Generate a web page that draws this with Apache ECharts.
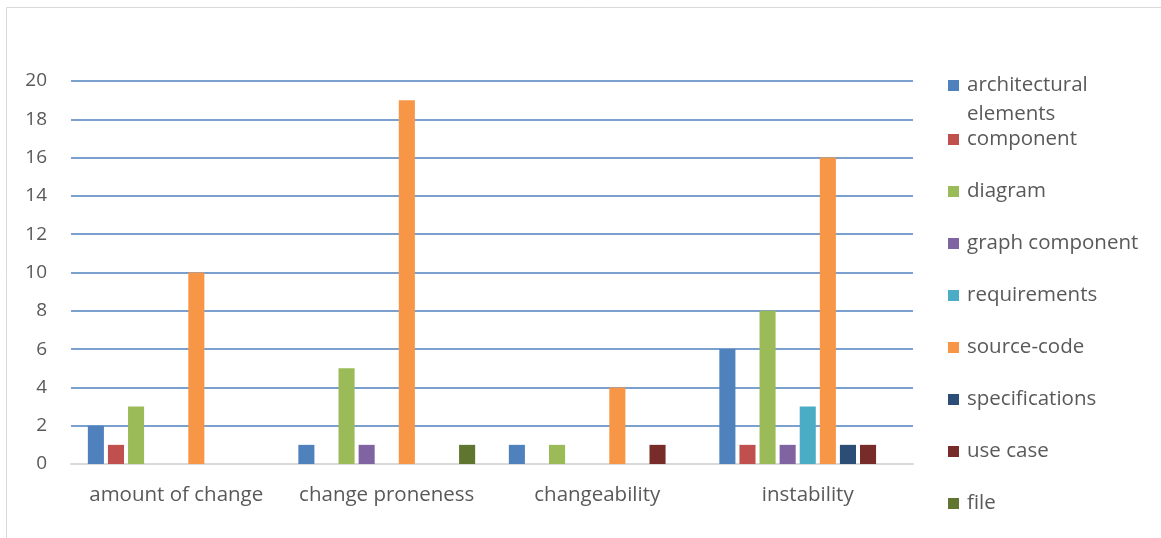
<!DOCTYPE html>
<html>
<head>
<meta charset="utf-8">
<script src="https://cdn.jsdelivr.net/npm/echarts@6/dist/echarts.min.js"></script>
<style>
  html, body { margin: 0; padding: 0; background: #fff; }
  #chart { width: 1161px; height: 538px; }
</style>
</head>
<body>
<div id="chart"></div>
<script>
// Categories of change-related metrics
const categories = ['amount of change', 'change proneness', 'changeability', 'instability'];

// Counts per artifact type, one value per category
const architecturalElements = [2, 1, 1, 6];
const component = [1, 0, 0, 1];
const diagram = [3, 5, 1, 8];
const graphComponent = [0, 1, 0, 1];
const requirements = [0, 0, 0, 3];
const sourceCode = [10, 19, 4, 16];
const specifications = [0, 0, 0, 1];
const useCase = [0, 0, 1, 1];
const file = [0, 1, 0, 0];

const seriesNames = ['architectural elements', 'component', 'diagram', 'graph component',
  'requirements', 'source-code', 'specifications', 'use case', 'file'];
const seriesValues = [architecturalElements, component, diagram, graphComponent,
  requirements, sourceCode, specifications, useCase, file];
const colors = ['#4F81BD', '#C0504D', '#9BBB59', '#8064A2', '#4BACC6', '#F79646', '#2C4D75', '#772C2A', '#5F7530'];

const FONT = '"Open Sans", "Liberation Sans", sans-serif';
const TEXT = '#595959';
const LEGEND_SIZE = 20.5;

const chart = echarts.init(document.getElementById('chart'), null, { renderer: 'canvas' });

chart.setOption({
  animation: false,
  color: colors,
  graphic: [{
    type: 'rect',
    shape: { x: 6.5, y: 7.5, width: 1200, height: 600 },
    style: { fill: 'none', stroke: '#D9D9D9', lineWidth: 1 },
    silent: true
  }],
  grid: { left: 71, top: 81, width: 842, height: 383, containLabel: false },
  legend: [{
    // first entry wraps onto a second line; a blank leading line keeps the
    // swatch level with the first line of text
    orient: 'vertical',
    left: 948,
    top: 46,
    padding: 0,
    itemWidth: 11,
    itemHeight: 11,
    itemGap: 0,
    icon: 'rect',
    data: ['architectural elements'],
    formatter: () => '{t| }\n{t|architectural}\n{t|elements}',
    textStyle: {
      rich: { t: { fontFamily: FONT, fontSize: LEGEND_SIZE, color: TEXT, lineHeight: 29, padding: [0, 0, 0, 3] } }
    }
  }, {
    orient: 'vertical',
    left: 948,
    top: 129,
    padding: 0,
    itemWidth: 11,
    itemHeight: 11,
    itemGap: 31,
    icon: 'rect',
    data: seriesNames.slice(1),
    formatter: (name) => '{t|' + name + '}',
    textStyle: {
      rich: { t: { fontFamily: FONT, fontSize: LEGEND_SIZE, color: TEXT, lineHeight: 22, padding: [0, 0, 0, 3] } }
    }
  }],
  xAxis: {
    type: 'category',
    data: categories,
    axisLine: { show: true, lineStyle: { color: '#D9D9D9', width: 2 } },
    axisTick: { show: false },
    axisLabel: { interval: 0, fontFamily: FONT, fontSize: 20.5, color: TEXT, margin: 21 }
  },
  yAxis: {
    type: 'value',
    min: 0,
    max: 20,
    interval: 2,
    axisLine: { show: false },
    axisTick: { show: false },
    axisLabel: { fontFamily: FONT, fontSize: 19, color: TEXT, margin: 24 },
    splitLine: { lineStyle: { color: '#4F81BD', width: 1.5 } }
  },
  series: seriesNames.map((name, i) => ({
    name,
    type: 'bar',
    data: seriesValues[i],
    barGap: '25%',
    barCategoryGap: '16%',
    itemStyle: { color: colors[i] }
  }))
});
</script>
</body>
</html>
